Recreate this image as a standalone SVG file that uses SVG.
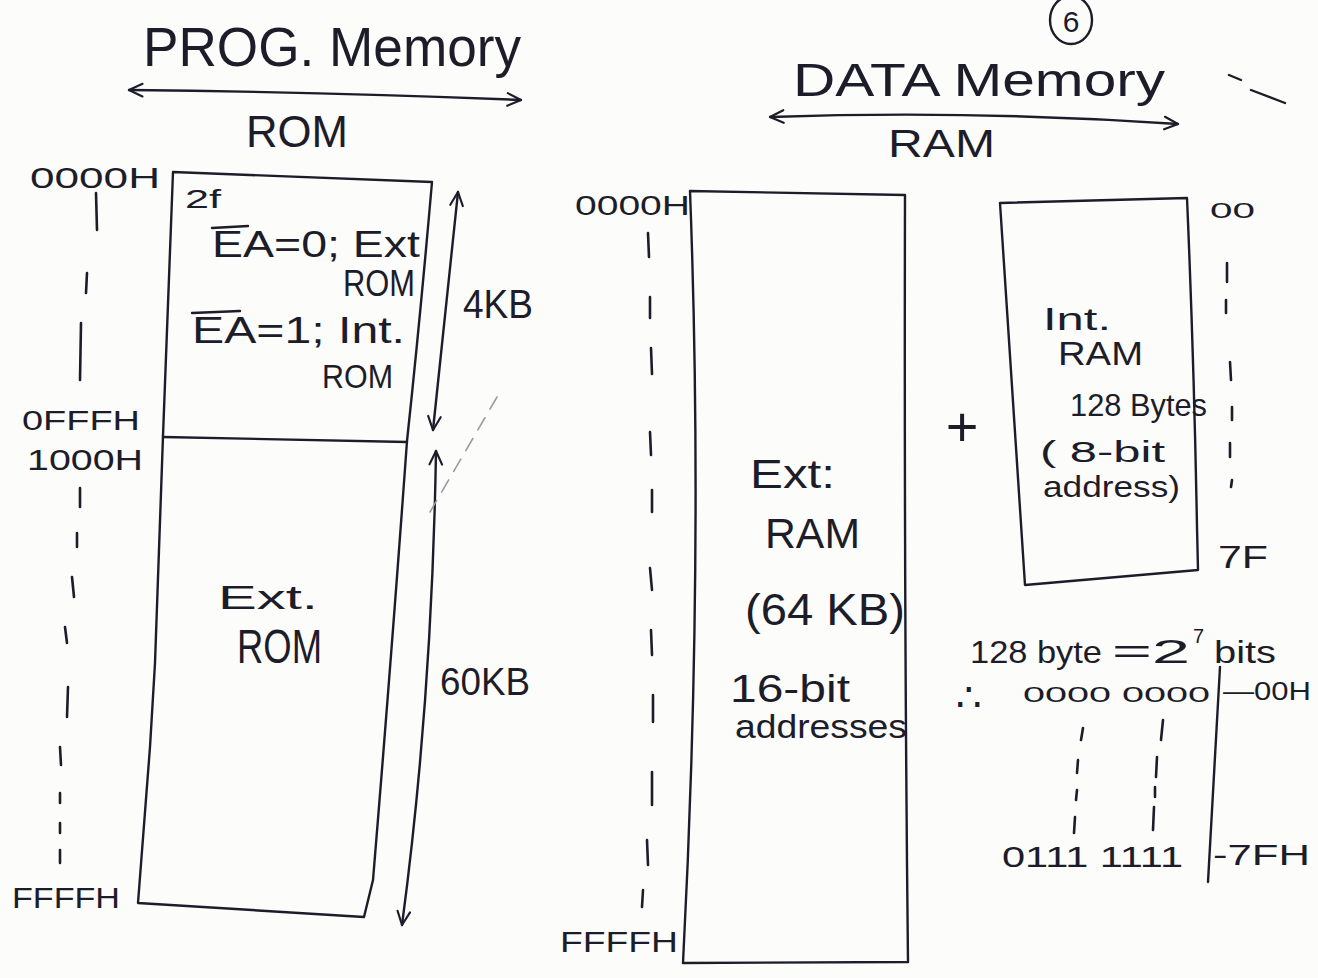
<svg xmlns="http://www.w3.org/2000/svg" width="1318" height="978" viewBox="0 0 1318 978">
  <defs>
    <style>
      .t { font-family: "Liberation Sans", "DejaVu Sans", sans-serif; fill: #1d1d2a; }
      .ln { fill: none; stroke: #1d1d2a; stroke-width: 2.4; stroke-linecap: round; stroke-linejoin: round; }
      .tick { fill: none; stroke: #1d1d2a; stroke-width: 2.6; stroke-linecap: round; }
      .faint { fill: none; stroke: #9a9aa0; stroke-width: 1.6; stroke-dasharray: 14 10; stroke-linecap: round; }
    </style>
    <!-- open chevron arrowhead used by all double-headed arrows -->
    <marker id="ah" viewBox="0 0 20 20" refX="18" refY="10" markerWidth="18" markerHeight="18" markerUnits="userSpaceOnUse" orient="auto-start-reverse">
      <path d="M3,3 L18,10 L3,17" fill="none" stroke="#1d1d2a" stroke-width="2.4" stroke-linecap="round" stroke-linejoin="round"/>
    </marker>
  </defs>

  <rect x="0" y="0" width="1318" height="978" fill="#fcfcfb"/>

  <!-- headings -->
  <g id="heading-prog">
    <text class="t" x="143" y="66" font-size="56" textLength="378" lengthAdjust="spacingAndGlyphs">PROG. Memory</text>
    <text class="t" x="246" y="147" font-size="44" textLength="102" lengthAdjust="spacingAndGlyphs">ROM</text>
  </g>
  <g id="heading-data">
    <text class="t" x="793" y="96" font-size="46" textLength="372" lengthAdjust="spacingAndGlyphs">DATA Memory</text>
    <text class="t" x="888" y="157" font-size="38" textLength="107" lengthAdjust="spacingAndGlyphs">RAM</text>
  </g>
  <g id="page-number">
    <ellipse cx="1071" cy="20" rx="21" ry="24" class="ln"/>
    <text class="t" x="1071" y="32" font-size="30" text-anchor="middle">6</text>
  </g>

  <!-- program memory (ROM) map -->
  <g id="prog-rom">
    <path class="ln" d="M173,172 L432,182 Q420,320 407,441 Q392,650 373,880 L364,917 L138,903 Q146,800 150,747 L155,663 L163,436 Z"/>
    <path class="ln" d="M163,437 L407,442"/>
    <text class="t" x="30" y="188" font-size="30" textLength="130" lengthAdjust="spacingAndGlyphs">0000H</text>
    <text class="t" x="185" y="208" font-size="26" textLength="36" lengthAdjust="spacingAndGlyphs">2f</text>
    <text class="t" x="212" y="257" font-size="36" textLength="208" lengthAdjust="spacingAndGlyphs">EA=0; Ext</text>
    <text class="t" x="343" y="296" font-size="36" textLength="72" lengthAdjust="spacingAndGlyphs">ROM</text>
    <text class="t" x="192" y="343" font-size="36" textLength="213" lengthAdjust="spacingAndGlyphs">EA=1; Int.</text>
    <text class="t" x="322" y="388" font-size="34" textLength="71" lengthAdjust="spacingAndGlyphs">ROM</text>
    <text class="t" x="463" y="318" font-size="40" textLength="70" lengthAdjust="spacingAndGlyphs">4KB</text>
    <text class="t" x="22" y="430" font-size="28" textLength="118" lengthAdjust="spacingAndGlyphs">0FFFH</text>
    <text class="t" x="27" y="470" font-size="30" textLength="116" lengthAdjust="spacingAndGlyphs">1000H</text>
    <text class="t" x="218" y="609" font-size="34" textLength="100" lengthAdjust="spacingAndGlyphs">Ext.</text>
    <text class="t" x="237" y="663" font-size="48" textLength="85" lengthAdjust="spacingAndGlyphs">ROM</text>
    <text class="t" x="440" y="695" font-size="38" textLength="90" lengthAdjust="spacingAndGlyphs">60KB</text>
    <text class="t" x="12" y="908" font-size="30" textLength="108" lengthAdjust="spacingAndGlyphs">FFFFH</text>
  </g>

  <!-- external data memory -->
  <g id="ext-ram">
    <path class="ln" d="M690,191 L905,195 Q904,600 908,962 L683,963 Q704,560 690,191 Z"/>
    <text class="t" x="575" y="215" font-size="28" textLength="115" lengthAdjust="spacingAndGlyphs">0000H</text>
    <text class="t" x="560" y="952" font-size="30" textLength="118" lengthAdjust="spacingAndGlyphs">FFFFH</text>
    <text class="t" x="750" y="488" font-size="40" textLength="85" lengthAdjust="spacingAndGlyphs">Ext:</text>
    <text class="t" x="765" y="548" font-size="42" textLength="95" lengthAdjust="spacingAndGlyphs">RAM</text>
    <text class="t" x="745" y="625" font-size="44" textLength="160" lengthAdjust="spacingAndGlyphs">(64 KB)</text>
    <text class="t" x="730" y="702" font-size="38" textLength="120" lengthAdjust="spacingAndGlyphs">16-bit</text>
    <text class="t" x="735" y="738" font-size="34" textLength="172" lengthAdjust="spacingAndGlyphs">addresses</text>
  </g>

  <g id="plus">
    <text class="t" x="962" y="446" font-size="56" text-anchor="middle">+</text>
  </g>

  <!-- internal data memory -->
  <g id="int-ram">
    <path class="ln" d="M1000,203 L1187,198 Q1194,360 1197,527 L1198,570 L1025,585 Q1012,390 1000,203 Z"/>
    <text class="t" x="1210" y="218" font-size="22" textLength="45" lengthAdjust="spacingAndGlyphs">00</text>
    <text class="t" x="1218" y="568" font-size="32" textLength="50" lengthAdjust="spacingAndGlyphs">7F</text>
    <text class="t" x="1043" y="330" font-size="32" textLength="68" lengthAdjust="spacingAndGlyphs">Int.</text>
    <text class="t" x="1058" y="365" font-size="34" textLength="85" lengthAdjust="spacingAndGlyphs">RAM</text>
    <text class="t" x="1070" y="416" font-size="32" textLength="137" lengthAdjust="spacingAndGlyphs">128 Bytes</text>
    <text class="t" x="1040" y="462" font-size="30" textLength="125" lengthAdjust="spacingAndGlyphs">( 8-bit</text>
    <text class="t" x="1043" y="497" font-size="30" textLength="137" lengthAdjust="spacingAndGlyphs">address)</text>
  </g>

  <!-- 7-bit address range of the internal RAM -->
  <g id="address-range">
    <text class="t" x="970" y="663" font-size="32" textLength="132" lengthAdjust="spacingAndGlyphs">128 byte</text>
    <text class="t" x="1112" y="663" font-size="34" textLength="78" lengthAdjust="spacingAndGlyphs">=2</text>
    <text class="t" x="1193" y="643" font-size="20">7</text>
    <text class="t" x="1214" y="663" font-size="32" textLength="62" lengthAdjust="spacingAndGlyphs">bits</text>
    <text class="t" x="956" y="711" font-size="40">∴</text>
    <text class="t" x="1023" y="702" font-size="22" textLength="187" lengthAdjust="spacingAndGlyphs">0000 0000</text>
    <text class="t" x="1223" y="700" font-size="26" textLength="88" lengthAdjust="spacingAndGlyphs">—00H</text>
    <text class="t" x="1002" y="867" font-size="30" textLength="181" lengthAdjust="spacingAndGlyphs">0111 1111</text>
    <text class="t" x="1213" y="865" font-size="30" textLength="97" lengthAdjust="spacingAndGlyphs">-7FH</text>
  </g>

  <!-- connectors, arrows, overlines and address ticks -->
  <g id="connectors">
    <path class="ln" d="M129,90 Q330,92 521,100" marker-start="url(#ah)" marker-end="url(#ah)"/>
    <path class="ln" d="M770,117 Q975,110 1178,124" marker-start="url(#ah)" marker-end="url(#ah)"/>
    <path class="ln" d="M458,192 L433,430" marker-start="url(#ah)" marker-end="url(#ah)"/>
    <path class="ln" d="M436,451 Q432,700 402,925" marker-start="url(#ah)" marker-end="url(#ah)"/>

    <path class="ln" d="M212,228 L248,226"/>
    <path class="ln" d="M192,313 L240,311"/>

    <path class="faint" d="M497,397 L430,512"/>

    <path class="ln" stroke-width="4.5" d="M1220,667 L1208,882"/>

    <g class="tick-set">
      <path class="tick" d="M96,193 L97,230 M87,273 L86,293 M81,323 L80,380"/>
      <path class="tick" d="M80,488 L80,507 M77,533 L77,547 M72,577 L74,597 M65,627 L67,643 M68,687 L67,717 M60,747 L61,765 M60,793 L60,803 M60,823 L60,833 M60,850 L60,863"/>
      <path class="tick" d="M648,233 L649,257 M650,297 L650,318 M651,348 L652,374 M650,432 L651,455 M652,490 L652,512 M650,568 L652,590 M651,630 L652,655 M653,695 L653,722 M652,772 L652,805 M647,840 L648,865 M643,890 L642,907"/>
      <path class="tick" d="M1227,263 L1227,282 M1226,300 L1226,313 M1230,362 L1231,380 M1232,407 L1232,420 M1230,443 L1230,457 M1232,480 L1231,487"/>
      <path class="tick" d="M1083,728 L1081,740 M1078,760 L1077,773 M1077,790 L1076,800 M1075,817 L1074,833"/>
      <path class="tick" d="M1163,720 L1161,740 M1157,757 L1156,777 M1155,787 L1155,797 M1154,807 L1153,830"/>
    </g>

    <path class="ln" stroke="#4a4a52" d="M1251,90 L1285,103 M1229,75 L1241,80"/>
  </g>
</svg>
